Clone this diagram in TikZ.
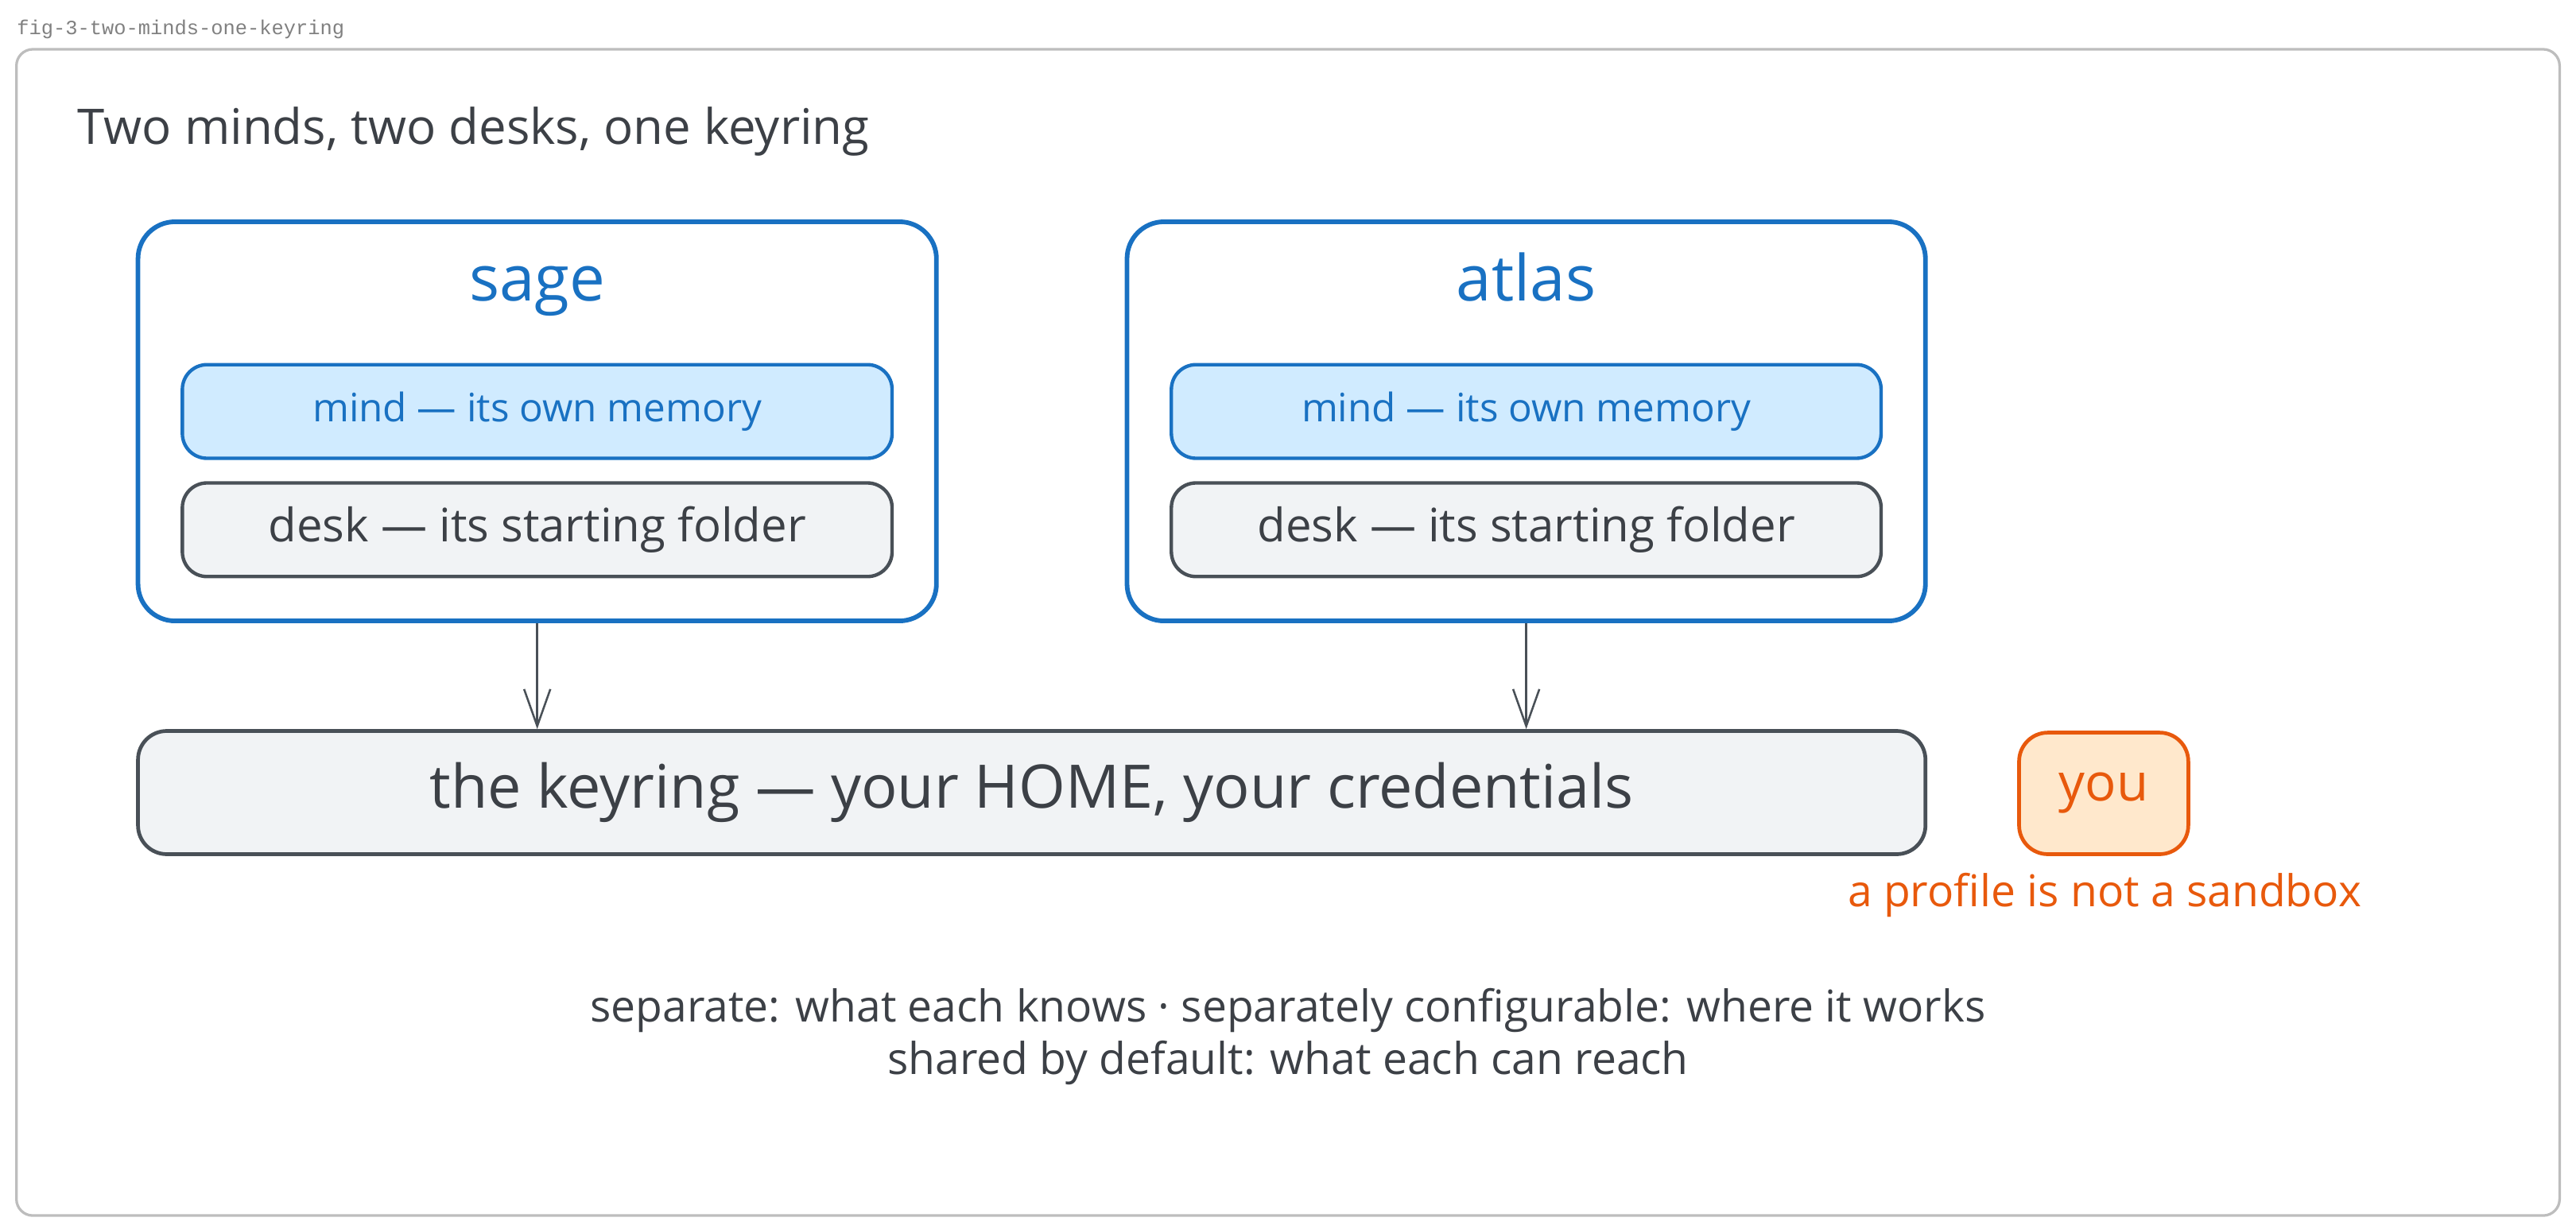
\documentclass[tikz,border=0pt]{standalone}
\usepackage{fontspec}
\setmainfont{Open Sans}
\setmonofont{Liberation Mono}
\usetikzlibrary{arrows.meta}

\definecolor{ink}{HTML}{3C4046}
\definecolor{edge}{HTML}{495057}
\definecolor{paper}{HTML}{F1F3F5}
\definecolor{mindblue}{HTML}{1971C2}
\definecolor{mindfill}{HTML}{D0EBFF}
\definecolor{youorange}{HTML}{E8590C}
\definecolor{youfill}{HTML}{FFE8CC}
\definecolor{framegray}{HTML}{BDBDBD}

\tikzset{
  agent/.style={draw=mindblue, line width=1.6pt, rounded corners=0.45cm,
    minimum width=9.72cm, minimum height=4.86cm},
  agentname/.style={text=mindblue, anchor=base, font=\fontsize{22}{26}\selectfont},
  mindbox/.style={draw=mindblue, fill=mindfill, line width=1.2pt, rounded corners=0.3cm,
    minimum width=8.64cm, minimum height=1.14cm, text=mindblue, font=\fontsize{13.6}{16}\selectfont},
  deskbox/.style={mindbox, draw=edge, fill=paper, text=ink, font=\fontsize{16}{19}\selectfont},
  keybox/.style={draw=edge, fill=paper, line width=1.3pt, rounded corners=0.35cm,
    text=ink, font=\fontsize{20.8}{25}\selectfont},
  note/.style={text=ink, font=\fontsize{15.2}{18}\selectfont},
  reach/.style={draw=edge, line width=0.7pt, -{Straight Barb[length=0.45cm, width=0.32cm]}},
}

\begin{document}
\begin{tikzpicture}
\useasboundingbox (0,0) rectangle (31.36,-14.96);

% frame and caption
\node[anchor=west, inner sep=0, text=gray, font=\ttfamily\fontsize{7}{9}\selectfont] (figname) at (0.2,-0.36) {fig-3-two-minds-one-keyring};
\draw[framegray, line width=0.9pt, rounded corners=0.2cm] (0.2,-0.6) rectangle (31.16,-14.8);
\node[anchor=west, inner sep=0, text=ink, font=\fontsize{17}{20}\selectfont] (title) at (0.94,-1.6) {Two minds, two desks, one keyring};

% two agents
\foreach \name/\x in {sage/6.54, atlas/18.58} {
  \node[agent] (\name) at (\x,-5.13) {};
  \node[agentname] (\name-name) at (\x,-3.66) {\name};
  \node[mindbox] (\name-mind) at (\x,-5.01) {mind — its own memory};
  \node[deskbox] (\name-desk) at (\x,-6.45) {desk — its starting folder};
}

% the shared keyring
\node[keybox, minimum width=21.76cm, minimum height=1.5cm] (keyring) at (12.56,-9.65) {the keyring — your HOME, your credentials};
\node[keybox, draw=youorange, fill=youfill, text=youorange, font=\fontsize{18}{22}\selectfont,
  minimum width=2.06cm, minimum height=1.48cm] (you) at (25.61,-9.66) {you};
\node[note, text=youorange] (warning) at (25.62,-10.9) {a profile is not a sandbox};

% arrows down to the keyring
\foreach \name in {sage, atlas}
  \draw[reach] (\name.south) -- (\name.south |- keyring.north);

% notes
\node[note] (note1) at (15.68,-12.3) {separate: what each knows · separately configurable: where it works};
\node[note] (note2) at (15.68,-12.94) {shared by default: what each can reach};
\end{tikzpicture}
\end{document}
